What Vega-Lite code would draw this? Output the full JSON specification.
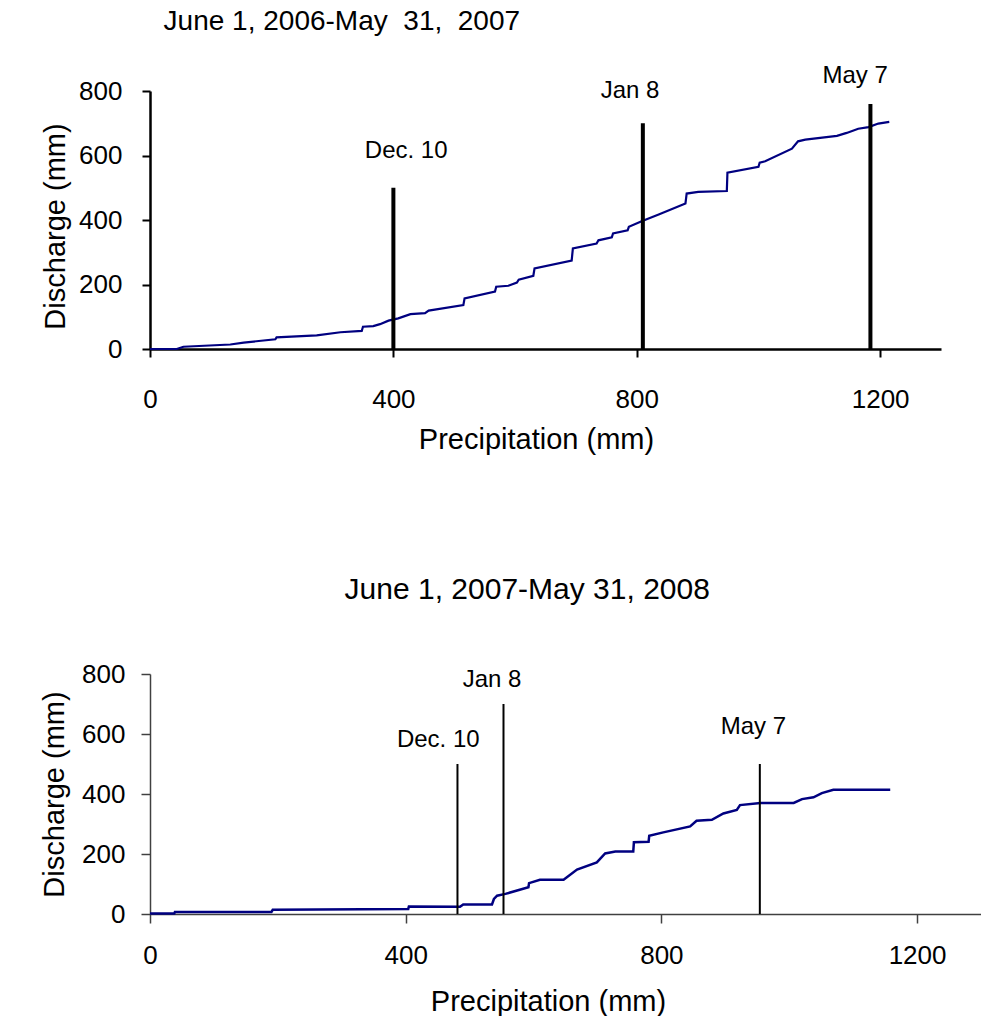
{
  "$schema": "https://vega.github.io/schema/vega-lite/v6.json",
  "padding": {"left": 40, "top": 7, "right": 0, "bottom": 0},
  "background": "white",
  "config": {
    "view": {"stroke": null},
    "font": "Liberation Sans",
    "axis": {"grid": false, "labelFont": "Liberation Sans", "titleFont": "Liberation Sans", "labelColor": "black", "titleColor": "black", "titleFontWeight": "normal", "format": "d"},
    "title": {"font": "Liberation Sans", "fontWeight": "normal", "color": "black"}
  },
  "datasets": {
    "c1": [
      {"p":0,"d":0},{"p":44,"d":0},{"p":55,"d":7},{"p":132,"d":14},{"p":154,"d":20},{"p":206,"d":30},{"p":208,"d":36},{"p":274,"d":42},{"p":313,"d":52},{"p":348,"d":56},{"p":350,"d":69},{"p":367,"d":71},{"p":378,"d":77},{"p":392,"d":88},{"p":408,"d":95},{"p":428,"d":108},{"p":452,"d":111},{"p":458,"d":119},{"p":515,"d":136},{"p":517,"d":157},{"p":567,"d":178},{"p":569,"d":193},{"p":589,"d":196},{"p":603,"d":206},{"p":606,"d":215},{"p":630,"d":227},{"p":632,"d":250},{"p":693,"d":274},{"p":695,"d":312},{"p":734,"d":327},{"p":737,"d":337},{"p":759,"d":346},{"p":761,"d":358},{"p":785,"d":368},{"p":787,"d":379},{"p":808,"d":396},{"p":836,"d":417},{"p":880,"d":451},{"p":882,"d":482},{"p":901,"d":487},{"p":948,"d":490},{"p":949,"d":547},{"p":1000,"d":565},{"p":1002,"d":578},{"p":1011,"d":582},{"p":1055,"d":621},{"p":1065,"d":644},{"p":1077,"d":649},{"p":1129,"d":661},{"p":1145,"d":670},{"p":1164,"d":683},{"p":1181,"d":688},{"p":1197,"d":699},{"p":1215,"d":704}
    ],
    "e1": [
      {"label":"Dec. 10","p":400,"top":500,"base":0,"lp":421,"ld":615},
      {"label":"Jan 8","p":810,"top":700,"base":0,"lp":789,"ld":800},
      {"label":"May 7","p":1184,"top":760,"base":0,"lp":1159,"ld":848}
    ],
    "c2": [
      {"p":0,"d":2},{"p":38,"d":2},{"p":39,"d":7},{"p":190,"d":7},{"p":192,"d":14},{"p":404,"d":17},{"p":405,"d":25},{"p":485,"d":24},{"p":490,"d":32},{"p":535,"d":32},{"p":538,"d":50},{"p":543,"d":61},{"p":556,"d":67},{"p":592,"d":89},{"p":593,"d":103},{"p":610,"d":114},{"p":647,"d":114},{"p":668,"d":148},{"p":699,"d":172},{"p":712,"d":202},{"p":728,"d":208},{"p":756,"d":208},{"p":757,"d":239},{"p":780,"d":241},{"p":781,"d":261},{"p":803,"d":272},{"p":845,"d":292},{"p":855,"d":311},{"p":879,"d":314},{"p":897,"d":335},{"p":918,"d":347},{"p":923,"d":363},{"p":955,"d":370},{"p":1007,"d":370},{"p":1020,"d":383},{"p":1038,"d":389},{"p":1051,"d":403},{"p":1069,"d":414},{"p":1158,"d":414}
    ],
    "e2": [
      {"label":"Dec. 10","p":481,"top":500,"base":0,"lp":451,"ld":580},
      {"label":"Jan 8","p":553,"top":700,"base":0,"lp":535,"ld":780},
      {"label":"May 7","p":954,"top":500,"base":0,"lp":944,"ld":622}
    ]
  },
  "vconcat": [
    {
      "width": 791,
      "height": 258,
      "title": {"text": "June 1, 2006-May\u00a0 31,\u00a0 2007", "fontSize": 28, "anchor": "start", "dx": 122, "offset": 28},
      "layer": [
        {
          "data": {"name": "c1"},
          "mark": {"type": "line", "color": "#000080", "strokeWidth": 2.2, "interpolate": "linear"},
          "encoding": {
            "x": {"field": "p", "type": "quantitative", "scale": {"domain": [0, 1300], "nice": false},
              "axis": {"title": "Precipitation (mm)", "values": [0, 400, 800, 1200], "labelFontSize": 26, "titleFontSize": 29, "domainColor": "black", "domainWidth": 2.5, "tickColor": "black", "tickWidth": 2, "tickSize": 8, "labelPadding": 29, "titlePadding": 13, "titleX": 386, "labelFlush": false}},
            "y": {"field": "d", "type": "quantitative", "scale": {"domain": [0, 800], "nice": false},
              "axis": {"title": "Discharge (mm)", "values": [0, 200, 400, 600, 800], "labelFontSize": 26, "titleFontSize": 29, "domainColor": "black", "domainWidth": 2.5, "tickColor": "black", "tickWidth": 2, "tickSize": 8, "labelPadding": 20, "titlePadding": 8, "titleY": 135}}
          }
        },
        {
          "data": {"name": "e1"},
          "mark": {"type": "rule", "color": "black", "strokeWidth": 4},
          "encoding": {
            "x": {"field": "p", "type": "quantitative"},
            "y": {"field": "top", "type": "quantitative"},
            "y2": {"field": "base"}
          }
        },
        {
          "data": {"name": "e1"},
          "mark": {"type": "text", "fontSize": 24, "baseline": "middle", "align": "center", "color": "black"},
          "encoding": {
            "x": {"field": "lp", "type": "quantitative"},
            "y": {"field": "ld", "type": "quantitative"},
            "text": {"field": "label", "type": "nominal"}
          }
        }
      ]
    },
    {
      "width": 831,
      "height": 240,
      "title": {"text": "June 1, 2007-May 31, 2008", "fontSize": 30, "anchor": "start", "dx": 304, "offset": 56},
      "layer": [
        {
          "data": {"name": "c2"},
          "mark": {"type": "line", "color": "#000080", "strokeWidth": 2.5, "interpolate": "linear"},
          "encoding": {
            "x": {"field": "p", "type": "quantitative", "scale": {"domain": [0, 1300], "nice": false},
              "axis": {"title": "Precipitation (mm)", "values": [0, 400, 800, 1200], "labelFontSize": 26, "titleFontSize": 29, "domainColor": "#404040", "domainWidth": 1.5, "tickColor": "#404040", "tickWidth": 1.5, "tickSize": 9, "labelPadding": 19, "titlePadding": 19, "titleX": 398, "labelFlush": false}},
            "y": {"field": "d", "type": "quantitative", "scale": {"domain": [0, 800], "nice": false},
              "axis": {"title": "Discharge (mm)", "values": [0, 200, 400, 600, 800], "labelFontSize": 26, "titleFontSize": 29, "domainColor": "#404040", "domainWidth": 1.5, "tickColor": "#404040", "tickWidth": 1.5, "tickSize": 9, "labelPadding": 16, "titlePadding": 12}}
          }
        },
        {
          "data": {"name": "e2"},
          "mark": {"type": "rule", "color": "black", "strokeWidth": 2},
          "encoding": {
            "x": {"field": "p", "type": "quantitative"},
            "y": {"field": "top", "type": "quantitative"},
            "y2": {"field": "base"}
          }
        },
        {
          "data": {"name": "e2"},
          "mark": {"type": "text", "fontSize": 24, "baseline": "middle", "align": "center", "color": "black"},
          "encoding": {
            "x": {"field": "lp", "type": "quantitative"},
            "y": {"field": "ld", "type": "quantitative"},
            "text": {"field": "label", "type": "nominal"}
          }
        }
      ]
    }
  ],
  "spacing": 121
}
